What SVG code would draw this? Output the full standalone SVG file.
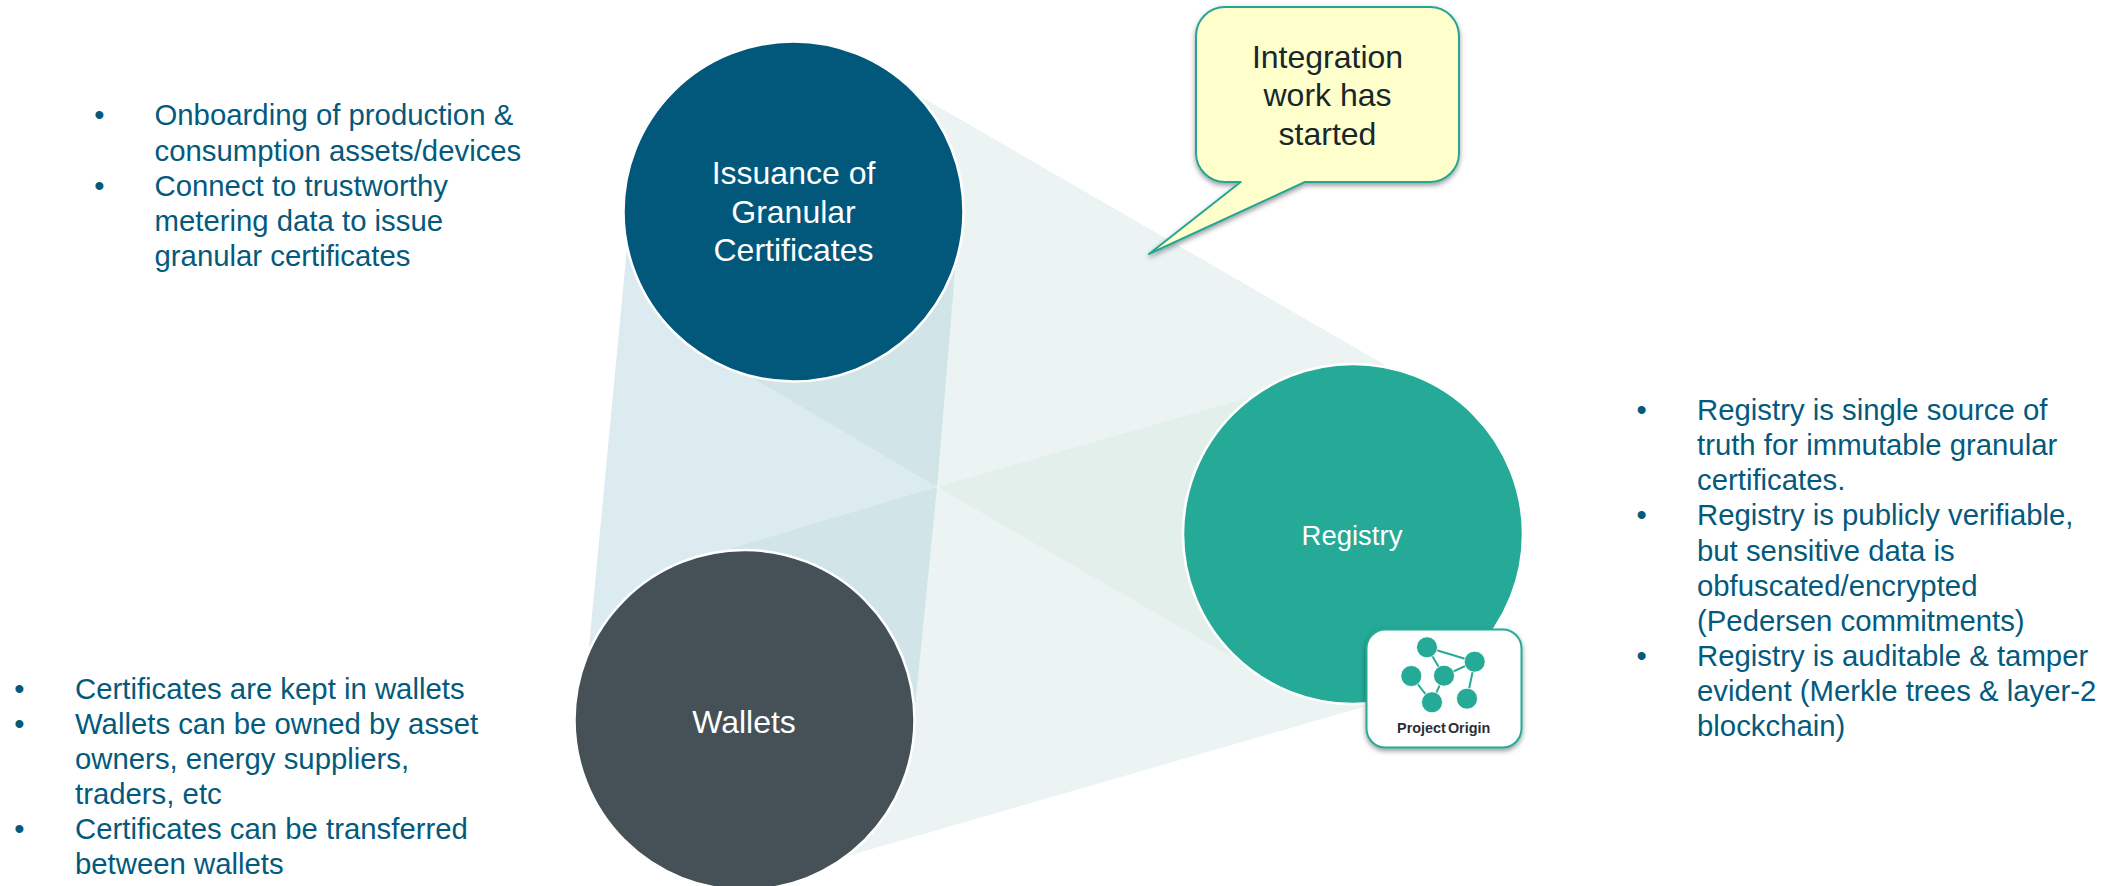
<svg xmlns="http://www.w3.org/2000/svg" width="2110" height="886" viewBox="0 0 2110 886">
<style>
text{font-family:"Liberation Sans",Arial,sans-serif}
.b{font-size:29.33px;fill:#045a7c}
.m{text-anchor:middle}
.n{font-size:32px;fill:#fff;text-anchor:middle}
.c{font-size:32px;fill:#16282c;text-anchor:middle}
.disc{stroke:#fff;stroke-width:2.5}
.lk{stroke:#25aa98;stroke-width:2}
.dot{fill:#25aa98;stroke:#fff;stroke-width:.8}
</style>
<defs>
<filter id="sh" x="-10%" y="-10%" width="120%" height="125%"><feDropShadow dx="0" dy="2.5" stdDeviation="2.5" flood-color="#000" flood-opacity=".4"/></filter>
</defs>
<rect width="2110" height="886" fill="#fff"/>
<g id="connectors">
<polygon points="627,247 955,270 915,707 589,647" fill="#dcebef"/>
<polygon points="918,95 1385,365 1232,657 753,378" fill="#ebf4f3"/>
<polygon points="726,550 1251,397 1363,707 844,857" fill="#ebf4f3"/>
<polygon points="753,378 955,270 937,487" fill="#d1e4e8"/>
<polygon points="726,550 937,487 915,707 800,720" fill="#d1e4e8"/>
<polygon points="937,487 1251,397 1300,530 1232,657" fill="#e3efeb"/>
</g>
<g id="node-issuance">
<circle class="disc" cx="793.5" cy="211.5" r="170" fill="#02587b"/>
<text class="n" x="793.5" y="184">Issuance of</text>
<text class="n" x="793.5" y="222.5">Granular</text>
<text class="n" x="793.5" y="261">Certificates</text>
</g>
<g id="node-wallets">
<circle class="disc" cx="744.5" cy="720" r="170" fill="#465057"/>
<text class="n" x="744" y="733">Wallets</text>
</g>
<g id="node-registry">
<circle class="disc" cx="1353" cy="534" r="170" fill="#25aa98"/>
<text class="n" x="1352" y="545" style="font-size:27.5px">Registry</text>
</g>
<g id="node-project-origin">
<rect x="1366.5" y="629.5" width="155" height="118" rx="19" fill="#fff" stroke="#25aa98" stroke-width="2" filter="url(#sh)"/>
<path class="lk" fill="none" d="M1427 647.3L1474.7 661.7L1444 675.7L1427 647.3M1474.7 661.7L1467 698.7M1444 675.7L1432 702.3L1411.3 676"/>
<circle class="dot" cx="1427" cy="647.3" r="10.5"/>
<circle class="dot" cx="1474.7" cy="661.7" r="10.5"/>
<circle class="dot" cx="1411.3" cy="676" r="10.5"/>
<circle class="dot" cx="1444" cy="675.7" r="10.5"/>
<circle class="dot" cx="1432" cy="702.3" r="10.5"/>
<circle class="dot" cx="1467" cy="698.7" r="10.5"/>
<text x="1443.7" y="733" text-anchor="middle" style="font-size:14.4px;font-weight:bold;word-spacing:-2px;fill:#2b2f36">Project Origin</text>
</g>
<g id="node-callout">
<path d="M1225 7H1430A29 29 0 0 1 1459 36V153A29 29 0 0 1 1430 182H1305L1149 254L1240.7 182H1225A29 29 0 0 1 1196 153V36A29 29 0 0 1 1225 7Z" fill="#ffffcc" stroke="#25a596" stroke-width="2" stroke-linejoin="round" filter="url(#sh)"/>
<text class="c" x="1327.5" y="67.5">Integration</text>
<text class="c" x="1327.5" y="106">work has</text>
<text class="c" x="1327.5" y="145">started</text>
</g>
<g id="list-issuance">
<text class="b m" x="99.5" y="124.5">•</text>
<text class="b" x="154.5" y="124.5">Onboarding of production &amp;</text>
<text class="b" x="154.5" y="160.5">consumption assets/devices</text>
<text class="b m" x="99.5" y="196">•</text>
<text class="b" x="154.5" y="196">Connect to trustworthy</text>
<text class="b" x="154.5" y="231">metering data to issue</text>
<text class="b" x="154.5" y="266">granular certificates</text>
</g>
<g id="list-wallets">
<text class="b m" x="19.5" y="699">•</text>
<text class="b" x="75" y="699">Certificates are kept in wallets</text>
<text class="b m" x="19.5" y="734">•</text>
<text class="b" x="75" y="734">Wallets can be owned by asset</text>
<text class="b" x="75" y="769">owners, energy suppliers,</text>
<text class="b" x="75" y="804">traders, etc</text>
<text class="b m" x="19.5" y="839">•</text>
<text class="b" x="75" y="839">Certificates can be transferred</text>
<text class="b" x="75" y="874">between wallets</text>
</g>
<g id="list-registry">
<text class="b m" x="1641.7" y="420">•</text>
<text class="b" x="1697" y="420">Registry is single source of</text>
<text class="b" x="1697" y="455">truth for immutable granular</text>
<text class="b" x="1697" y="490">certificates.</text>
<text class="b m" x="1641.7" y="525">•</text>
<text class="b" x="1697" y="525">Registry is publicly verifiable,</text>
<text class="b" x="1697" y="560.5">but sensitive data is</text>
<text class="b" x="1697" y="595.5">obfuscated/encrypted</text>
<text class="b" x="1697" y="631">(Pedersen commitments)</text>
<text class="b m" x="1641.7" y="666">•</text>
<text class="b" x="1697" y="666">Registry is auditable &amp; tamper</text>
<text class="b" x="1697" y="701">evident (Merkle trees &amp; layer-2</text>
<text class="b" x="1697" y="736">blockchain)</text>
</g>
</svg>
